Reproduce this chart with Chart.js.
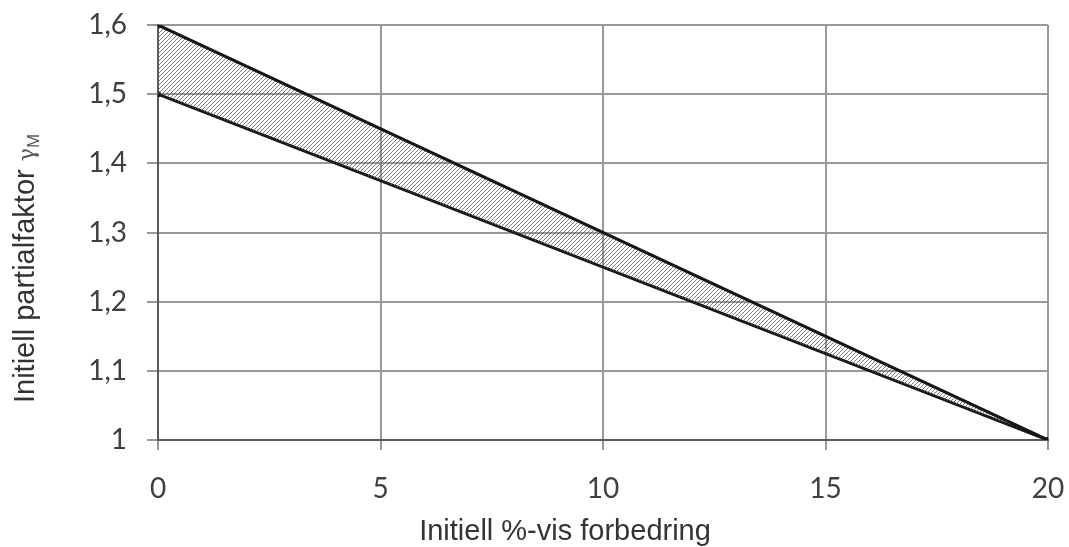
<!DOCTYPE html>
<html>
<head>
<meta charset="utf-8">
<script src="https://cdn.jsdelivr.net/npm/chart.js@4"></script>
<style>
  html, body { margin: 0; padding: 0; background: #ffffff; }
  #wrap { width: 1069px; height: 547px; position: relative; }
</style>
</head>
<body>
<div id="wrap"><canvas id="c" width="1069" height="547"></canvas></div>
<script>
// ---- data ----
const improvementPct = [0, 20];          // x: Initiell %-vis forbedring
const upperFactor    = [1.6, 1.0];       // upper bound of γM
const lowerFactor    = [1.5, 1.0];       // lower bound of γM
const xTicks = [0, 5, 10, 15, 20];
const yTicks = [1, 1.1, 1.2, 1.3, 1.4, 1.5, 1.6];
const xTitle = 'Initiell %-vis forbedring';
const yTitleMain = 'Initiell partialfaktor ';
const yTitleSymbol = 'γ';
const yTitleSub = 'M';

// hatch pattern "/"
function makeHatch() {
  const p = 4;
  const t = document.createElement('canvas');
  t.width = p; t.height = p;
  const g = t.getContext('2d');
  g.fillStyle = 'rgba(95,95,95,0.8)';
  for (let i = 0; i < p; i++) g.fillRect(i, p - 1 - i, 1, 1);
  return document.getElementById('c').getContext('2d').createPattern(t, 'repeat');
}

const fmt = v => String(Math.round(v * 10) / 10).replace('.', ',');

const titlePlugin = {
  id: 'titles',
  afterDraw(chart) {
    const ctx = chart.ctx, a = chart.chartArea;
    ctx.save();
    ctx.fillStyle = '#333333';
    const mainFont = '29px "Liberation Sans", Arial, sans-serif';
    // x title
    ctx.font = mainFont;
    ctx.textAlign = 'center';
    ctx.textBaseline = 'alphabetic';
    ctx.fillText(xTitle, (a.left + a.right) / 2 - 38, a.bottom + 100);
    // y title (rotated), with γ and subscript M
    ctx.translate(a.left - 124, (a.top + a.bottom) / 2 + 36);
    ctx.rotate(-Math.PI / 2);
    ctx.textAlign = 'left';
    const symFont = '22px "DejaVu Serif", serif';
    const subFont = '17px "Liberation Sans", Arial, sans-serif';
    ctx.font = mainFont; const w1 = ctx.measureText(yTitleMain).width;
    ctx.font = symFont;  const w2 = ctx.measureText(yTitleSymbol).width;
    ctx.font = subFont;  const w3 = ctx.measureText(yTitleSub).width;
    let x = -(w1 + w2 + w3) / 2;
    ctx.font = mainFont; ctx.fillText(yTitleMain, x, 0); x += w1;
    ctx.fillStyle = '#555555';
    ctx.font = symFont;  ctx.fillText(yTitleSymbol, x, 0); x += w2;
    ctx.font = subFont;  ctx.fillText(yTitleSub, x, 5);
    ctx.restore();
  }
};

const pts = arr => improvementPct.map((x, i) => ({ x: x, y: arr[i] }));

new Chart(document.getElementById('c'), {
  type: 'line',
  data: {
    datasets: [
      {
        label: 'Øvre',
        data: pts(upperFactor),
        borderColor: '#151515',
        borderWidth: 3,
        pointRadius: 3,
        pointBackgroundColor: '#151515',
        pointBorderWidth: 0,
        fill: '+1',
        backgroundColor: makeHatch(),
        tension: 0
      },
      {
        label: 'Nedre',
        data: pts(lowerFactor),
        borderColor: '#151515',
        borderWidth: 3,
        pointRadius: 3,
        pointBackgroundColor: '#151515',
        pointBorderWidth: 0,
        fill: false,
        tension: 0
      }
    ]
  },
  options: {
    responsive: false,
    animation: false,
    layout: { padding: { left: 0, right: 21, top: 25, bottom: 0 } },
    plugins: { legend: { display: false }, tooltip: { enabled: false } },
    scales: {
      x: {
        type: 'linear',
        min: 0, max: 20,
        afterBuildTicks: s => { s.ticks = xTicks.map(v => ({ value: v })); },
        afterFit: s => { s.height = 107; s.paddingLeft = 0; s.paddingRight = 0; },
        ticks: { callback: v => fmt(v), color: '#404040', padding: 22,
                 font: { family: 'Lato, "Open Sans", sans-serif', size: 28 } },
        grid: { color: '#999999', lineWidth: 2, tickLength: 10, tickColor: '#999999' },
        border: { color: '#5a5a5a', width: 2 }
      },
      y: {
        min: 1, max: 1.6,
        afterBuildTicks: s => { s.ticks = yTicks.map(v => ({ value: v })); },
        afterFit: s => { s.width = 158; s.paddingTop = 0; s.paddingBottom = 0; },
        ticks: { callback: v => fmt(v), color: '#404040', padding: 20,
                 font: { family: 'Lato, "Open Sans", sans-serif', size: 28 } },
        grid: { color: '#999999', lineWidth: 2, tickLength: 11, tickColor: '#999999' },
        border: { color: '#5a5a5a', width: 2 }
      }
    }
  },
  plugins: [titlePlugin]
});
</script>
</body>
</html>
